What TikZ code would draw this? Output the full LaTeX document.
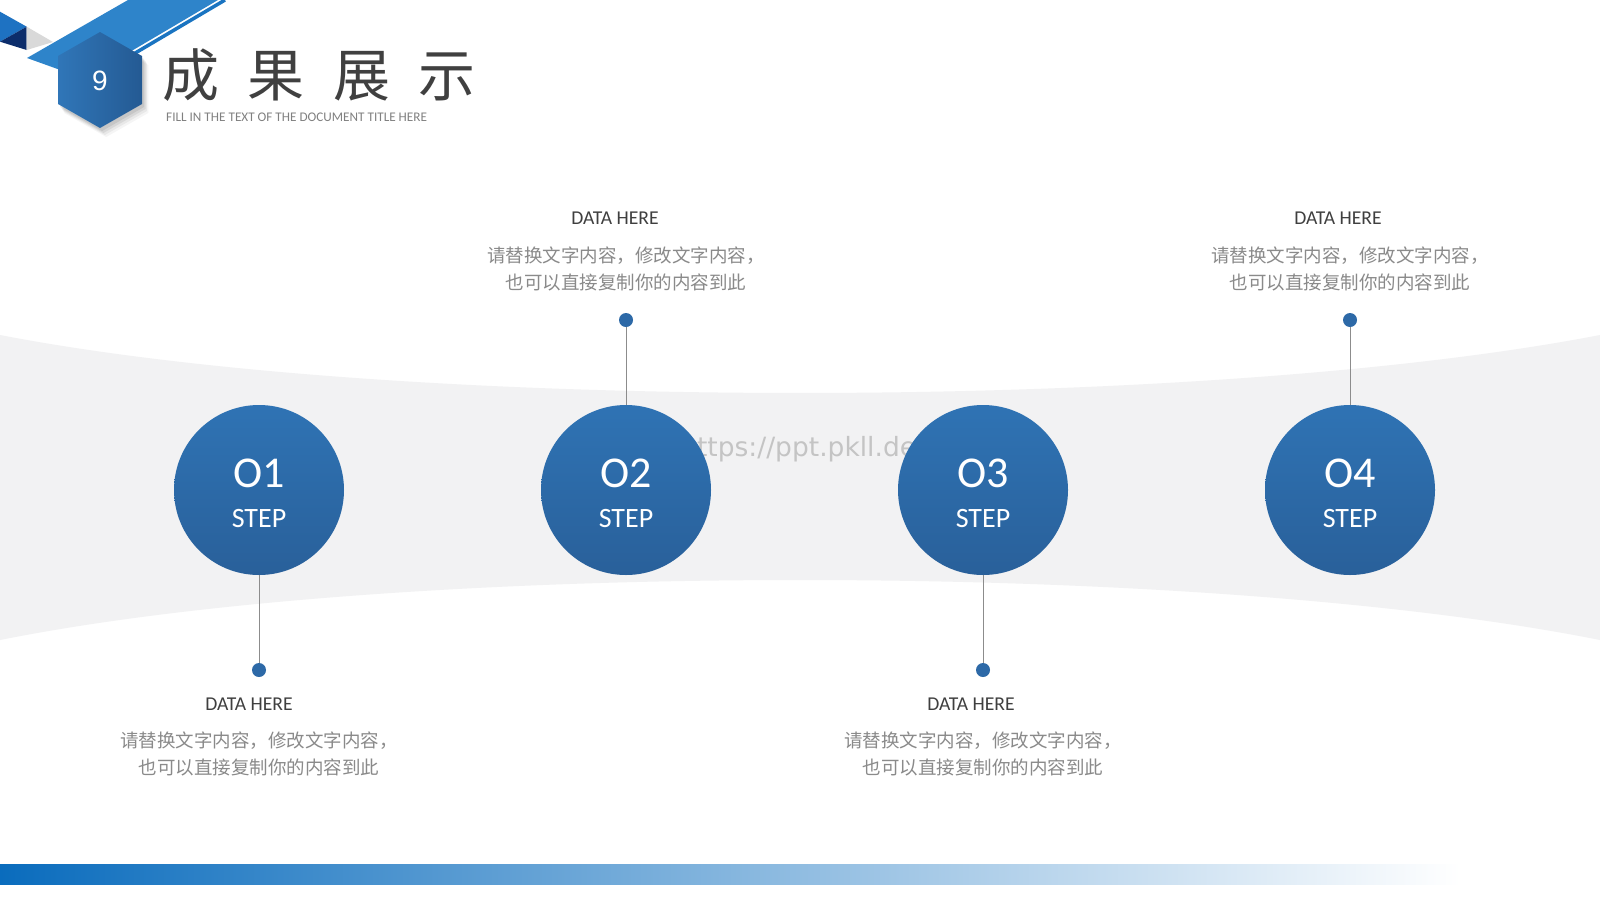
\documentclass[tikz,border=0pt]{standalone}
\usepackage{fontspec}
\setmainfont{Carlito}
\newfontfamily\cjk{Noto Sans CJK SC}
\newfontfamily\wmfont{DejaVu Sans}
\newfontfamily\arialfont{Liberation Sans}
\definecolor{bandgray}{HTML}{F2F2F3}
\definecolor{barblue}{HTML}{0A6CBD}
\definecolor{cornerblue}{HTML}{1E72C2}
\definecolor{navyc}{HTML}{0C2D6B}
\definecolor{lgray}{HTML}{D9D9D9}
\definecolor{bandblue}{HTML}{2E84CA}
\definecolor{lineblue}{HTML}{1A74C1}
\definecolor{hexl}{HTML}{3076B8}
\definecolor{hexr}{HTML}{245A93}
\definecolor{circtop}{HTML}{2F73B4}
\definecolor{circbot}{HTML}{29609A}
\definecolor{dotblue}{HTML}{2D69A7}
\definecolor{conngray}{HTML}{8C8C8C}
\definecolor{titlecol}{HTML}{404040}
\definecolor{subcol}{HTML}{808080}
\definecolor{dtitle}{HTML}{3F3F3F}
\definecolor{dtext}{HTML}{8A8A8A}
\definecolor{wmcol}{HTML}{C4C4C4}
\begin{document}
\begin{tikzpicture}[x=1pt,y=-1pt,
  stepcircle/.style={circle, minimum size=170pt, inner sep=0pt, top color=circtop, bottom color=circbot, draw=none},
  dotnode/.style={circle, fill=dotblue, minimum size=14pt, inner sep=0pt},
  conn/.style={draw=conngray, line width=0.9pt},
  numtext/.style={text=white, inner sep=0pt, font=\fontsize{44}{46}\selectfont},
  steptext/.style={text=white, inner sep=0pt, font=\fontsize{28}{30}\selectfont},
  datatitle/.style={text=dtitle, inner sep=0pt, font=\fontsize{19.6}{22}\selectfont},
  datatext/.style={text=dtext, inner sep=0pt, align=center, font=\cjk\fontsize{18.5}{27}\selectfont},
]
\useasboundingbox (0,0) rectangle (1600,900);
\fill[white] (0,0) rectangle (1600,900);
% background band
\fill[bandgray] (0,335) .. controls (400,412.3) and (1200,412.3) .. (1600,335)
  -- (1600,640) .. controls (1200,560) and (400,560) .. (0,640) -- cycle;
% bottom bar
\shade[left color=barblue, right color=white] (0,864) rectangle (1460,884);
% corner decoration
\fill[cornerblue] (0,11.7) -- (26.7,26.7) -- (0,41.7) -- cycle;
\fill[navyc] (0,41.7) -- (26.7,26.7) -- (26.7,50) -- cycle;
\fill[lgray] (26.7,26.7) -- (53,42) -- (26.7,50) -- cycle;
\fill[bandblue] (128,0) -- (218,0) -- (84.5,78.7) -- (27,58) -- cycle;
\draw[lineblue, line width=3.5pt] (225,0) -- (120,62);
% hexagon shadow
\foreach \s/\o in {9/0.04,7/0.05,5/0.07,3/0.08}{
  \fill[black, opacity=\o, shift={(\s*0.7,\s)}] (100,32) -- (142,56) -- (142,104) -- (100,128) -- (58,104) -- (58,56) -- cycle;
}
\shade[left color=hexl, right color=hexr] (100,32) -- (142,56) -- (142,104) -- (100,128) -- (58,104) -- (58,56) -- cycle;
\node[text=white, inner sep=0pt, font=\arialfont\fontsize{28}{30}\selectfont] (num) at (100,81) {9};
% title
\node[anchor=base west, inner sep=0pt, text=titlecol, font=\cjk\fontsize{57}{60}\selectfont] (title) at (162,96) {成\hspace{28.5pt}果\hspace{28.5pt}展\hspace{28.5pt}示};
\node[anchor=base west, inner sep=0pt, text=subcol, font=\fontsize{13.2}{15}\selectfont] (sub) at (166,121) {FILL IN THE TEXT OF THE DOCUMENT TITLE HERE};
% watermark
\node[anchor=west, inner sep=0pt, text=wmcol, font=\wmfont\fontsize{26.5}{29}\selectfont] (wm) at (680,449) {https://ppt.pkll.de};
% dots
\node[dotnode] (d1) at (259,670) {};
\node[dotnode] (d2) at (626,320) {};
\node[dotnode] (d3) at (983,670) {};
\node[dotnode] (d4) at (1350,320) {};
% circles
\node[stepcircle] (c1) at (259,490) {};
\node[stepcircle] (c2) at (626,490) {};
\node[stepcircle] (c3) at (983,490) {};
\node[stepcircle] (c4) at (1350,490) {};
% connectors
\draw[conn] (d1) -- (c1);
\draw[conn] (d2) -- (c2);
\draw[conn] (d3) -- (c3);
\draw[conn] (d4) -- (c4);
% circle texts
\node[numtext] (n1) at (259,473.5) {O1};
\node[steptext] (s1) at (259,519) {STEP};
\node[numtext] (n2) at (626,473.5) {O2};
\node[steptext] (s2) at (626,519) {STEP};
\node[numtext] (n3) at (983,473.5) {O3};
\node[steptext] (s3) at (983,519) {STEP};
\node[numtext] (n4) at (1350,473.5) {O4};
\node[steptext] (s4) at (1350,519) {STEP};
% data blocks
\node[datatitle] (t2) at (615,218) {DATA HERE};
\node[datatext] (x2) at (626,268.5) {请替换文字内容，修改文字内容，\\也可以直接复制你的内容到此};
\node[datatitle] (t4) at (1338,218) {DATA HERE};
\node[datatext] (x4) at (1350,268.5) {请替换文字内容，修改文字内容，\\也可以直接复制你的内容到此};
\node[datatitle] (t1) at (249,704) {DATA HERE};
\node[datatext] (x1) at (259,754) {请替换文字内容，修改文字内容，\\也可以直接复制你的内容到此};
\node[datatitle] (t3) at (971,704) {DATA HERE};
\node[datatext] (x3) at (983,754) {请替换文字内容，修改文字内容，\\也可以直接复制你的内容到此};
\end{tikzpicture}
\end{document}
